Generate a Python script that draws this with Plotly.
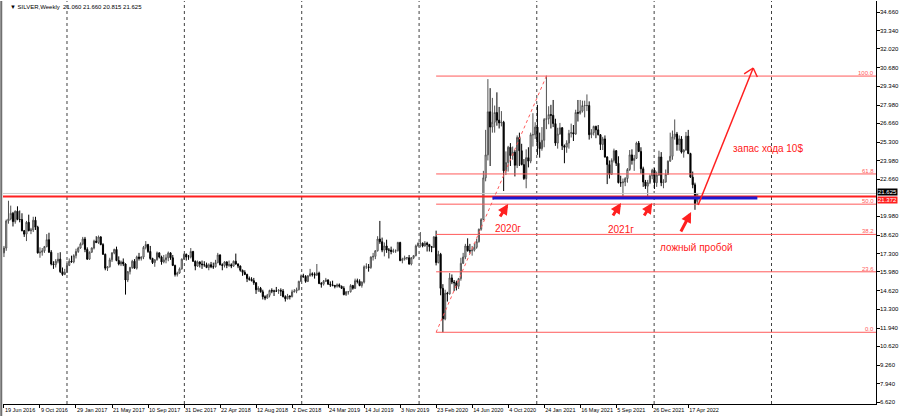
import pandas as pd
import plotly.graph_objects as go

symbol = "SILVER,Weekly"
first_week = "2016-06-19"

# weekly OHLC, one row per calendar year (first row starts 19 Jun 2016)
week_open = [
    17.35, 17.70, 19.65, 19.80, 20.20, 19.60, 20.35, 19.75, 19.75, 18.95, 18.70, 19.55, 18.95, 19.00, 19.70, 19.20, 17.35, 17.40, 17.50, 17.80, 18.30, 17.40, 16.55, 16.50, 16.75, 16.90, 16.00, 15.80,
    15.95, 16.45, 16.75, 16.70, 17.15, 17.45, 17.70, 18.00, 18.35, 17.60, 16.90, 17.40, 17.70, 18.20, 18.10, 18.50, 17.95, 17.25, 16.25, 16.35, 16.85, 17.35, 17.60, 16.80, 16.55, 16.70, 16.55, 15.40, 16.00, 16.30, 16.75, 16.25, 17.05, 16.95, 17.05, 17.75, 17.95, 17.45, 16.95, 16.65, 16.85, 17.35, 17.05, 16.70, 16.85, 17.00, 17.35, 17.00, 16.45, 15.80, 15.90, 16.20, 16.90,
    17.25, 17.05, 17.05, 17.45, 16.75, 16.40, 16.70, 16.55, 16.50, 16.50, 16.30, 16.50, 16.35, 16.35, 16.65, 17.20, 16.50, 16.45, 16.70, 16.45, 16.50, 16.40, 16.75, 16.55, 16.40, 16.10, 15.95, 15.80, 15.50, 15.45, 15.35, 15.20, 14.70, 14.80, 14.55, 14.20, 14.10, 14.30, 14.65, 14.60, 14.60, 14.60, 14.65, 14.60, 14.20, 14.05, 14.25, 14.20, 14.55, 14.60, 14.70, 15.30,
    15.70, 15.65, 15.30, 15.70, 15.85, 15.80, 15.75, 15.90, 15.15, 15.10, 15.30, 15.40, 15.10, 15.05, 15.00, 14.95, 15.05, 14.95, 14.80, 14.35, 14.55, 14.55, 15.00, 14.80, 15.35, 15.30, 15.00, 15.25, 16.35, 16.35, 16.30, 17.05, 17.10, 17.50, 18.35, 18.15, 17.55, 17.85, 17.55, 17.55, 17.45, 17.50, 17.50, 18.10, 16.80, 16.90, 17.00, 17.00, 16.55, 17.00, 17.15, 17.85,
    18.05, 18.05, 17.85, 18.05, 17.95, 17.80, 17.75, 18.50, 16.65, 17.25, 14.80, 12.60, 14.45, 14.40, 15.55, 15.25, 15.20, 14.95, 15.50, 16.60, 17.05, 17.85, 17.50, 17.50, 17.55, 17.75, 18.15, 19.05, 19.75, 22.75, 24.40, 27.50, 26.40, 26.75, 27.45, 26.90, 26.70, 26.75, 23.25, 23.85, 24.95, 24.35, 24.60, 23.65, 25.65, 24.70, 23.70, 22.70, 24.20, 23.95, 25.85, 25.85,
    26.40, 25.30, 24.85, 25.45, 26.95, 27.00, 27.30, 27.25, 26.65, 25.25, 25.90, 26.35, 25.05, 24.95, 25.25, 25.95, 26.00, 25.90, 27.45, 27.40, 27.55, 27.95, 27.95, 27.95, 25.85, 26.00, 26.45, 26.20, 25.85, 25.15, 25.55, 24.25, 23.70, 23.00, 24.00, 24.70, 23.80, 22.40, 22.40, 22.45, 22.70, 23.35, 24.40, 24.00, 24.15, 25.25, 24.65, 23.40, 22.45, 22.15, 22.40, 22.90,
    23.30, 22.40, 22.95, 24.25, 22.40, 22.45, 23.00, 23.95, 24.30, 25.70, 25.90, 25.15, 25.55, 24.60, 24.75, 25.75, 24.50, 22.80, 22.25, 21.06,
]
week_high = [
    17.85, 19.75, 21.10, 20.75, 20.30, 20.40, 20.70, 20.40, 20.20, 19.00, 19.65, 20.10, 19.15, 19.95, 19.95, 19.30, 17.75, 17.70, 17.85, 18.70, 18.80, 17.55, 16.75, 16.90, 17.35, 17.40, 16.30, 16.20,
    16.75, 16.95, 17.15, 17.25, 17.65, 17.80, 18.10, 18.50, 18.50, 17.75, 17.45, 17.75, 18.30, 18.55, 18.60, 18.55, 18.05, 17.30, 16.40, 17.00, 17.40, 17.65, 17.80, 17.10, 16.80, 16.95, 16.60, 16.05, 16.35, 16.85, 16.90, 17.15, 17.35, 17.10, 17.85, 18.20, 18.00, 17.85, 17.00, 16.90, 17.45, 17.40, 17.15, 17.20, 17.25, 17.45, 17.40, 17.20, 16.50, 16.00, 16.30, 16.95, 17.30,
    17.30, 17.20, 17.70, 17.50, 16.80, 16.80, 16.75, 16.80, 16.75, 16.65, 16.60, 16.70, 16.65, 16.85, 17.35, 17.25, 16.60, 16.75, 16.75, 16.80, 16.60, 16.80, 17.30, 16.60, 16.45, 16.15, 16.10, 15.85, 15.65, 15.60, 15.55, 15.25, 14.95, 14.90, 14.70, 14.30, 14.40, 14.70, 14.80, 14.70, 14.90, 14.75, 14.80, 14.75, 14.30, 14.40, 14.30, 14.70, 14.75, 14.85, 15.35, 15.80,
    15.85, 15.75, 15.75, 16.20, 15.95, 15.95, 16.55, 16.00, 15.25, 15.40, 15.55, 15.45, 15.30, 15.35, 15.05, 15.15, 15.15, 15.00, 14.95, 14.60, 14.60, 15.10, 15.05, 15.50, 15.50, 15.45, 15.30, 16.45, 16.60, 16.55, 17.10, 17.35, 17.55, 18.55, 19.65, 18.45, 18.10, 18.30, 17.70, 17.80, 17.65, 17.60, 18.15, 18.15, 17.00, 17.15, 17.05, 17.20, 17.05, 17.20, 17.95, 18.10,
    18.85, 18.10, 18.20, 18.15, 18.00, 17.85, 18.55, 18.95, 17.50, 17.35, 15.10, 14.70, 14.55, 15.90, 15.80, 15.40, 15.35, 15.55, 17.00, 17.35, 18.00, 18.40, 18.00, 17.85, 18.05, 18.35, 19.10, 19.85, 23.25, 26.20, 29.85, 29.20, 28.50, 27.95, 28.90, 27.85, 27.55, 26.85, 24.65, 25.05, 25.25, 25.00, 24.75, 25.80, 26.00, 25.20, 24.10, 24.80, 24.95, 26.00, 27.40, 26.75,
    28.00, 26.00, 26.40, 27.05, 30.10, 27.90, 28.00, 28.35, 27.00, 26.35, 26.70, 26.40, 25.15, 25.45, 26.20, 26.65, 26.55, 27.65, 28.35, 28.35, 28.30, 28.30, 28.75, 28.25, 26.25, 26.50, 26.50, 26.55, 25.90, 25.70, 25.80, 24.30, 24.00, 24.15, 24.85, 24.75, 24.30, 22.90, 22.70, 22.80, 23.45, 24.75, 24.80, 24.40, 25.35, 25.40, 24.95, 23.55, 22.60, 22.60, 23.00, 23.40,
    23.45, 23.20, 24.70, 24.60, 22.65, 23.35, 24.00, 26.00, 26.15, 26.95, 26.05, 25.80, 25.75, 24.80, 26.05, 26.20, 24.55, 23.20, 22.40, 21.66,
]
week_low = [
    17.05, 17.50, 19.45, 19.70, 19.25, 19.45, 19.70, 19.55, 18.90, 18.50, 18.20, 18.90, 18.70, 18.85, 19.00, 17.30, 17.00, 17.15, 17.35, 17.75, 17.35, 16.45, 16.20, 16.30, 16.60, 15.90, 15.70, 15.75,
    15.90, 16.40, 16.65, 16.60, 16.95, 17.35, 17.65, 17.90, 17.40, 16.85, 16.85, 17.35, 17.60, 18.05, 18.00, 17.90, 17.20, 16.10, 16.05, 16.30, 16.70, 17.25, 16.75, 16.45, 16.40, 16.40, 14.35, 15.25, 15.80, 16.20, 16.20, 16.15, 16.80, 16.80, 16.90, 17.60, 17.35, 16.85, 16.55, 16.35, 16.80, 16.95, 16.50, 16.60, 16.60, 16.75, 16.85, 16.40, 15.65, 15.65, 15.85, 16.15, 16.85,
    16.80, 16.85, 16.95, 16.70, 16.10, 16.35, 16.30, 16.20, 16.35, 16.25, 16.10, 16.25, 16.20, 16.30, 16.60, 16.45, 16.10, 16.30, 16.25, 16.35, 16.25, 16.35, 16.50, 16.25, 16.00, 15.70, 15.75, 15.25, 15.35, 15.30, 15.05, 14.40, 14.55, 14.50, 14.00, 13.95, 14.05, 14.15, 14.45, 14.25, 14.55, 14.40, 14.25, 14.15, 13.85, 14.00, 14.00, 14.15, 14.50, 14.45, 14.65, 15.25,
    15.55, 15.20, 15.25, 15.65, 15.65, 15.50, 15.70, 15.10, 14.85, 15.00, 15.25, 15.05, 14.90, 14.95, 14.80, 14.85, 14.85, 14.75, 14.30, 14.25, 14.35, 14.50, 14.70, 14.75, 15.15, 14.95, 14.85, 15.15, 16.20, 16.00, 16.20, 16.80, 16.90, 17.45, 18.00, 17.40, 17.10, 17.35, 16.95, 17.25, 17.35, 17.35, 17.45, 16.75, 16.60, 16.80, 16.85, 16.50, 16.45, 16.90, 17.10, 17.80,
    17.75, 17.75, 17.80, 17.45, 17.45, 17.40, 17.70, 16.45, 16.60, 14.30, 11.64, 12.50, 13.85, 14.35, 15.10, 14.60, 14.65, 14.75, 15.35, 16.55, 16.90, 17.45, 17.30, 17.15, 17.45, 17.65, 18.10, 18.95, 19.70, 22.50, 24.00, 23.60, 26.00, 26.00, 26.50, 26.30, 26.45, 21.80, 22.95, 23.20, 23.60, 24.05, 22.85, 23.45, 23.60, 23.65, 22.60, 22.00, 23.50, 23.80, 25.00, 25.55,
    24.40, 24.20, 24.70, 24.95, 26.25, 26.60, 26.30, 26.40, 25.05, 24.85, 25.85, 24.75, 23.80, 24.55, 24.85, 25.65, 25.40, 25.85, 26.80, 27.30, 27.45, 27.10, 27.55, 25.50, 25.60, 25.80, 25.60, 25.80, 24.75, 24.75, 24.20, 22.30, 22.70, 22.95, 23.85, 23.60, 22.35, 22.10, 21.40, 22.15, 22.40, 23.25, 23.70, 23.25, 24.10, 24.60, 23.05, 22.10, 21.95, 21.40, 22.30, 22.65,
    21.95, 22.10, 22.90, 22.15, 22.00, 22.40, 22.95, 23.90, 24.05, 25.50, 24.70, 24.70, 24.50, 24.20, 24.70, 24.45, 22.75, 22.00, 20.45, 20.815,
]
week_close = [
    17.70, 19.65, 19.80, 20.20, 19.60, 20.35, 19.75, 19.75, 18.95, 18.70, 19.55, 18.95, 19.00, 19.70, 19.20, 17.35, 17.40, 17.50, 17.80, 18.30, 17.40, 16.55, 16.50, 16.75, 16.90, 16.00, 15.80, 15.95,
    16.45, 16.75, 16.70, 17.15, 17.45, 17.70, 18.00, 18.35, 17.60, 16.90, 17.40, 17.70, 18.20, 18.10, 18.50, 17.95, 17.25, 16.25, 16.35, 16.85, 17.35, 17.60, 16.80, 16.55, 16.70, 16.55, 15.40, 16.00, 16.30, 16.75, 16.25, 17.05, 16.95, 17.05, 17.75, 17.95, 17.45, 16.95, 16.65, 16.85, 17.35, 17.05, 16.70, 16.85, 17.00, 17.35, 17.00, 16.45, 15.80, 15.90, 16.20, 16.90, 17.25,
    17.05, 17.05, 17.45, 16.75, 16.40, 16.70, 16.55, 16.50, 16.50, 16.30, 16.50, 16.35, 16.35, 16.65, 17.20, 16.50, 16.45, 16.70, 16.45, 16.50, 16.40, 16.75, 16.55, 16.40, 16.10, 15.95, 15.80, 15.50, 15.45, 15.35, 15.20, 14.70, 14.80, 14.55, 14.20, 14.10, 14.30, 14.65, 14.60, 14.60, 14.60, 14.65, 14.60, 14.20, 14.05, 14.25, 14.20, 14.55, 14.60, 14.70, 15.30, 15.70,
    15.65, 15.30, 15.70, 15.85, 15.80, 15.75, 15.90, 15.15, 15.10, 15.30, 15.40, 15.10, 15.05, 15.00, 14.95, 15.05, 14.95, 14.80, 14.35, 14.55, 14.55, 15.00, 14.80, 15.35, 15.30, 15.00, 15.25, 16.35, 16.35, 16.30, 17.05, 17.10, 17.50, 18.35, 18.15, 17.55, 17.85, 17.55, 17.55, 17.45, 17.50, 17.50, 18.10, 16.80, 16.90, 17.00, 17.00, 16.55, 17.00, 17.15, 17.85, 18.05,
    18.05, 17.85, 18.05, 17.95, 17.80, 17.75, 18.50, 16.65, 17.25, 14.80, 12.60, 14.45, 14.40, 15.55, 15.25, 15.20, 14.95, 15.50, 16.60, 17.05, 17.85, 17.50, 17.50, 17.55, 17.75, 18.15, 19.05, 19.75, 22.75, 24.40, 27.50, 26.40, 26.75, 27.45, 26.90, 26.70, 26.75, 23.25, 23.85, 24.95, 24.35, 24.60, 23.65, 25.65, 24.70, 23.70, 22.70, 24.20, 23.95, 25.85, 25.85, 26.40,
    25.30, 24.85, 25.45, 26.95, 27.00, 27.30, 27.25, 26.65, 25.25, 25.90, 26.35, 25.05, 24.95, 25.25, 25.95, 26.00, 25.90, 27.45, 27.40, 27.55, 27.95, 27.95, 27.95, 25.85, 26.00, 26.45, 26.20, 25.85, 25.15, 25.55, 24.25, 23.70, 23.00, 24.00, 24.70, 23.80, 22.40, 22.40, 22.45, 22.70, 23.35, 24.40, 24.00, 24.15, 25.25, 24.65, 23.40, 22.45, 22.15, 22.40, 22.90, 23.30,
    22.40, 22.95, 24.25, 22.40, 22.45, 23.00, 23.95, 24.30, 25.70, 25.90, 25.15, 25.55, 24.60, 24.75, 25.75, 24.50, 22.80, 22.25, 20.90, 21.625,
]

price_ticks = [34.66, 33.34, 32.02, 30.68, 29.34, 27.98, 26.66, 25.30, 23.98, 22.66,
               19.98, 18.62, 17.30, 15.98, 14.62, 13.30, 11.94, 10.62, 9.26, 7.94, 6.62]
year_lines = ["2017-01-01", "2018-01-01", "2019-01-01", "2020-01-01",
              "2021-01-01", "2022-01-01", "2023-01-01"]

# drawn objects
fib_low, fib_high = 11.64, 30.07
fib_start, fib_peak = "2020-02-23", "2021-01-31"
fib_levels = [0.0, 23.6, 38.2, 50.0, 61.8, 100.0]
support_level = 21.40
support_tag = 21.372
zone_level = 21.30
zone_from, zone_to = "2020-08-16", "2022-11-18"
bid = week_close[-1]

x_left, x_right = "2016-06-16", "2023-11-22"
y_bottom, y_top = 6.48, 35.47
red = "#ff2020"
fib_red = "#ff5a5a"

week_dates = pd.date_range(first_week, periods=len(week_close), freq="7D")
label_dates = week_dates[::16]
label_text = [f"{d.day} {d.strftime('%b %Y')}" for d in label_dates]

fig = go.Figure()
fig.add_trace(go.Candlestick(
    x=week_dates, open=week_open, high=week_high, low=week_low, close=week_close,
    increasing=dict(line=dict(color="#505050", width=1), fillcolor="#ffffff"),
    decreasing=dict(line=dict(color="#000000", width=1), fillcolor="#000000"),
    whiskerwidth=0, hoverinfo="skip", showlegend=False,
))

for d in year_lines:
    fig.add_vline(x=d, line=dict(color="#404040", width=1, dash="dot"), layer="below")

# bid line + support line
fig.add_hline(y=bid, line=dict(color="#c8c8c8", width=1))
fig.add_hline(y=support_level, line=dict(color=red, width=2))

# fibonacci grid
fib_range = fib_high - fib_low
for lvl in fib_levels:
    price = fib_low + fib_range * lvl / 100
    fig.add_shape(type="line", x0=fib_start, x1=x_right, y0=price, y1=price,
                  line=dict(color=fib_red, width=1))
    fig.add_annotation(x=x_right, y=price, text=f"{lvl:.1f}", showarrow=False,
                       xanchor="right", yanchor="bottom", yshift=-2,
                       font=dict(size=6, color=fib_red))
fig.add_shape(type="line", x0=fib_start, y0=fib_low, x1=fib_peak, y1=fib_high,
              line=dict(color=fib_red, width=1, dash="dot"))

# blue zone line
fig.add_shape(type="line", x0=zone_from, x1=zone_to, y0=zone_level, y1=zone_level,
              line=dict(color="#1a1ad0", width=3))

# small arrows pointing at the touches
touches = [("2020-10-04", 20.87, -9, 14), ("2021-09-20", 20.94, -9, 14),
           ("2021-12-26", 20.94, -9, 14), ("2022-04-26", 20.29, -11, 21)]
for d, p, ax, ay in touches:
    fig.add_annotation(x=d, y=p, ax=ax, ay=ay, text="", showarrow=True,
                       arrowhead=2, arrowsize=0.7, arrowwidth=3, arrowcolor=red)

# big target arrow
tail = ("2022-05-18", 20.80)
head = ("2022-11-05", 30.65)
fig.add_shape(type="line", x0=tail[0], y0=tail[1], x1=head[0], y1=head[1],
              line=dict(color=red, width=1.5))
for wing in [("2022-10-08", 30.22), ("2022-11-18", 30.00)]:
    fig.add_shape(type="line", x0=head[0], y0=head[1], x1=wing[0], y1=wing[1],
                  line=dict(color=red, width=1.5))

notes = [("2020-10-04", 19.14, "2020г"), ("2021-09-19", 19.00, "2021г"),
         ("2022-05-12", 17.77, "ложный пробой"), ("2022-12-22", 24.89, "запас хода 10$")]
for d, p, t in notes:
    fig.add_annotation(x=d, y=p, text=t, showarrow=False,
                       font=dict(size=10, color=red, family="Liberation Sans"))

# price scale labels on the right
for v in price_ticks:
    fig.add_annotation(xref="paper", x=1, y=v, xanchor="left", xshift=2,
                       text=f"{v:.3f}", showarrow=False, font=dict(size=6, color="#000"))

# header and price tags
fig.add_annotation(xref="paper", yref="paper", x=0.006, y=0.998, xanchor="left", yanchor="top",
                   text=f"▼ {symbol}  21.060 21.660 20.815 21.625", showarrow=False,
                   font=dict(size=6, color="#000"))
fig.add_annotation(xref="paper", x=1, y=bid, xanchor="left", xshift=1, text=f"{bid:.3f}",
                   showarrow=False, bgcolor="#000", borderpad=0, yshift=1,
                   font=dict(size=6, color="#fff"))
fig.add_annotation(xref="paper", x=1, y=support_level, xanchor="left", xshift=1,
                   text=f"{support_tag:.3f}", showarrow=False, bgcolor=red,
                   borderpad=0, yshift=-3, font=dict(size=6, color="#fff"))

# window frame on the left edge
fig.add_shape(type="line", xref="paper", yref="paper", x0=-0.002, x1=-0.002, y0=-0.03, y1=1,
              line=dict(color="#707070", width=2))

fig.update_layout(
    width=900, height=418,
    margin=dict(l=3, r=24, t=1, b=14),
    plot_bgcolor="white", paper_bgcolor="white",
    font=dict(family="Liberation Sans", color="black"),
    showlegend=False,
    xaxis=dict(
        range=[x_left, x_right], rangeslider=dict(visible=False),
        showgrid=False, tickvals=label_dates, ticktext=label_text,
        ticks="outside", ticklen=3, tickcolor="#000", tickfont=dict(size=5.5),
        ticklabelposition="outside right", tickangle=0, automargin=False,
        showline=True, linecolor="#000", linewidth=1,
    ),
    yaxis=dict(
        side="right", range=[y_bottom, y_top], showgrid=False, zeroline=False,
        tickvals=price_ticks, showticklabels=False, automargin=False,
        ticks="outside", ticklen=3, tickcolor="#000",
        showline=True, linecolor="#000", linewidth=1,
    ),
)

fig.write_html("out.html", config={"displayModeBar": False},
               post_script="document.body.style.margin='0';")
